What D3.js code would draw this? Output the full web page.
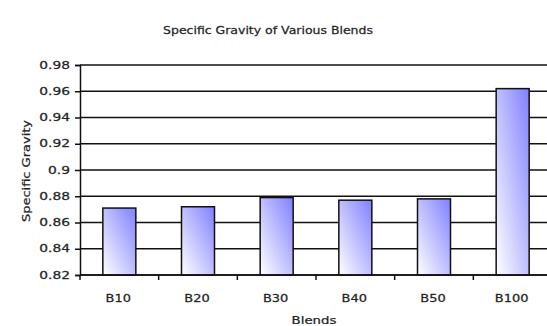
<!DOCTYPE html>
<html>
<head>
<meta charset="utf-8">
<script src="https://cdn.jsdelivr.net/npm/d3@7"></script>
<style>
  body { margin: 0; background: #fff; }
  text { font-family: "DejaVu Sans", Verdana, sans-serif; fill: #1a1a1a; stroke: #333; stroke-width: 0.25px; }
</style>
</head>
<body>
<div id="chart"></div>
<script>
// chart data
var blends = ["B10", "B20", "B30", "B40", "B50", "B100"];
var gravity = [0.871, 0.872, 0.879, 0.877, 0.878, 0.962];
var yTicks = [0.82, 0.84, 0.86, 0.88, 0.9, 0.92, 0.94, 0.96, 0.98];

const width = 547, height = 326;
const margin = {top: 65, bottom: 51, left: 80, right: -5};

const svg = d3.select("#chart")
              .append("svg")
              .attr("width", width)
              .attr("height", height);

// gradient for the bars
var defs = svg.append("defs");
var grad = defs.append("linearGradient")
               .attr("id", "barGrad")
               .attr("x1", "0%").attr("y1", "100%")
               .attr("x2", "100%").attr("y2", "0%");
grad.append("stop").attr("offset", "0%").attr("stop-color", "#ffffff");
grad.append("stop").attr("offset", "100%").attr("stop-color", "#8080ff");

// scales
var xScale = d3.scaleBand()
               .domain(blends)
               .range([margin.left, width - margin.right]);

var yScale = d3.scaleLinear()
               .domain([0.82, 0.98])
               .range([height - margin.bottom, margin.top]);

// this function writes horizontally stretched text like the original
function addText(parent, x, y, str, sx, anchor) {
    return parent.append("text")
                 .attr("transform", "translate(" + x + "," + y + ") scale(" + sx + ",1)")
                 .attr("text-anchor", anchor || "middle")
                 .attr("font-size", 10)
                 .text(str);
}

// gridlines
svg.append("g")
   .selectAll("line")
   .data(yTicks)
   .enter().append("line")
   .attr("x1", margin.left)
   .attr("x2", width)
   .attr("y1", d => yScale(d))
   .attr("y2", d => yScale(d))
   .attr("stroke", "#111")
   .attr("stroke-width", 1.5);

// bars
var barW = 33;
svg.append("g")
   .selectAll("rect")
   .data(blends)
   .enter().append("rect")
   .attr("x", d => xScale(d) + xScale.bandwidth() / 2 - barW / 2)
   .attr("y", (d, i) => yScale(gravity[i]))
   .attr("width", barW)
   .attr("height", (d, i) => yScale(0.82) - yScale(gravity[i]))
   .attr("fill", "url(#barGrad)")
   .attr("stroke", "#111")
   .attr("stroke-width", 1.5);

// y axis
const yAxis = d3.axisLeft(yScale)
                .tickValues(yTicks)
                .tickSize(5)
                .tickFormat("");

svg.append("g")
   .attr("transform", "translate(" + margin.left + ",0)")
   .call(yAxis)
   .call(g => g.selectAll("line").attr("stroke", "#111").attr("stroke-width", 1.5))
   .call(g => g.select(".domain").attr("stroke", "#111").attr("stroke-width", 1.5));

// y tick labels
var yLab = svg.append("g");
yTicks.forEach(function(t) {
    addText(yLab, margin.left - 10, yScale(t) + 3.5, String(+t.toFixed(2)), 1.38, "end");
});

// x axis with ticks on band boundaries
var xBase = height - margin.bottom;
svg.append("line")
   .attr("x1", margin.left).attr("x2", width)
   .attr("y1", xBase).attr("y2", xBase)
   .attr("stroke", "#111").attr("stroke-width", 1.5);

svg.append("g")
   .selectAll("line")
   .data(blends)
   .enter().append("line")
   .attr("x1", d => xScale(d))
   .attr("x2", d => xScale(d))
   .attr("y1", xBase)
   .attr("y2", xBase + 5)
   .attr("stroke", "#111")
   .attr("stroke-width", 1.5);

var xLab = svg.append("g");
blends.forEach(function(b) {
    addText(xLab, xScale(b) + xScale.bandwidth() / 2 - 1, xBase + 27, b, 1.3);
});

// title
addText(svg, 268, 34, "Specific Gravity of Various Blends", 1.25);

// axis labels
addText(svg, 314, 324, "Blends", 1.33);

svg.append("text")
   .attr("transform", "translate(30,171) rotate(-90) scale(1.3,1)")
   .attr("text-anchor", "middle")
   .attr("font-size", 10)
   .text("Specific Gravity");
</script>
</body>
</html>
